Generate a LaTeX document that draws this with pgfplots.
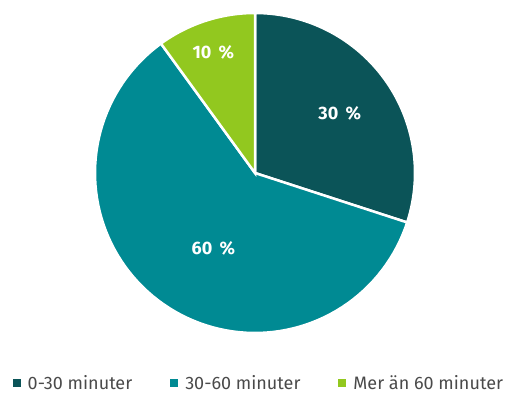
\documentclass[border=0pt]{standalone}
\usepackage{pgfplots}
\pgfplotsset{compat=1.18}
\usepackage{fontspec}
\setmainfont{Fira Sans}
\definecolor{cdark}{HTML}{0B5458}
\definecolor{cteal}{HTML}{008A93}
\definecolor{cgreen}{HTML}{92C81F}
\definecolor{ctext}{HTML}{4A4A4A}
\begin{document}
\begin{tikzpicture}
\useasboundingbox (0,0) rectangle (508pt,395pt);
\begin{axis}[
  at={(255pt,222pt)}, anchor=origin,
  x=160pt, y=160pt,
  xmin=-1.1, xmax=1.1, ymin=-1.1, ymax=1.1,
  hide axis, clip=false,
  legend columns=3,
  legend style={draw=none, fill=none, at={(0.511,-0.097)}, anchor=center,
    font=\fontsize{18}{18}\selectfont\color{ctext},
    /tikz/every odd column/.append style={column sep=5pt},
    /tikz/every even column/.append style={column sep=36pt}},
  legend image code/.code={\fill[#1,draw=none] (0pt,-4pt) rectangle (8pt,4pt);},
  every axis plot/.append style={draw=white, line width=2.5pt, samples=90},
]
% shares in percent: 30, 60, 10 -- clockwise from 12 o'clock, 3.6 deg per percent
\addplot[fill=cdark, data cs=polar, domain=90-30*3.6:90] (x,1) -- (axis cs:0,0) -- cycle;
\addlegendentry{0-30 minuter}
\addplot[fill=cteal, data cs=polar, domain=90-90*3.6:90-30*3.6] (x,1) -- (axis cs:0,0) -- cycle;
\addlegendentry{30-60 minuter}
\addplot[fill=cgreen, data cs=polar, domain=90-100*3.6:90-90*3.6] (x,1) -- (axis cs:0,0) -- cycle;
\addlegendentry{Mer än 60 minuter}
\begin{scope}[every node/.style={text=white, font=\fontsize{18}{18}\selectfont\bfseries}]
\node at (axis cs:0.53,0.375) {30 \,\%};
\node at (axis cs:-0.26,0.756) {10 \,\%};
\node at (axis cs:-0.26,-0.47) {60 \,\%};
\end{scope}
\end{axis}
\end{tikzpicture}
\end{document}
